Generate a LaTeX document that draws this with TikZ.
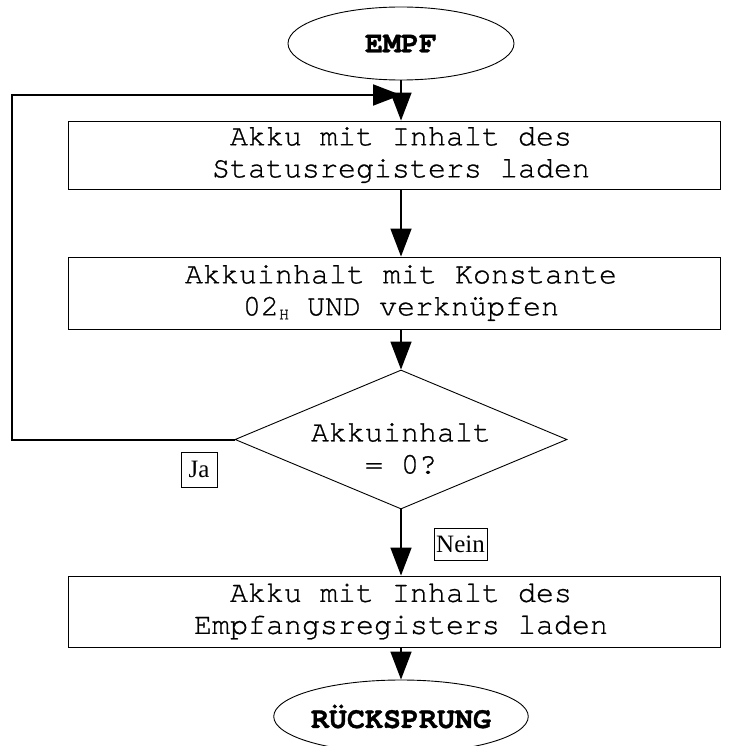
\documentclass[tikz,border=0pt]{standalone}
\usepackage{fontspec}
\setmainfont{Liberation Serif}
\newfontfamily\mono{TeX Gyre Cursor}[FakeBold=0.7, BoldFeatures={FakeBold=1.2}]
\usetikzlibrary{shapes.geometric,arrows.meta}
\newcommand{\shiftln}{\hspace*{14pt}}
\begin{document}
\begin{tikzpicture}[x=1pt,y=-1pt,
  procbox/.style={draw, line width=0.9pt, minimum width=652pt, inner sep=0pt, align=center, font=\mono\fontsize{30}{32}\selectfont},
  term/.style={draw, ellipse, line width=0.9pt, minimum width=226pt, minimum height=73pt, inner sep=0pt, font=\mono\bfseries\fontsize{30}{32}\selectfont},
  decision/.style={draw, diamond, line width=0.9pt, minimum width=332pt, minimum height=139pt, inner sep=0pt},
  dectxt/.style={align=center, inner sep=0pt, font=\mono\fontsize{30}{32}\selectfont},
  flow/.style={line width=1.6pt, -{Triangle[length=28pt,width=21pt]}},
  loopflow/.style={line width=2pt, -{Triangle[length=28pt,width=21pt]}},
  lab/.style={draw, line width=0.7pt, inner sep=0pt, font=\fontsize{25}{25}\selectfont}]
\useasboundingbox (0,0) rectangle (730,746);
\fill[white] (0,0) rectangle (730,746);
\node[term] (start) at (401,43.5) {EMPF};
\node[procbox, minimum height=68pt] (b1) at (394,155) {\shiftln Akku mit Inhalt des\\\shiftln Statusregisters laden};
\node[procbox, minimum height=72pt] (b2) at (394,293) {\shiftln Akkuinhalt mit Konstante\\\shiftln 02\raisebox{-4pt}{\fontsize{17}{17}\selectfont H} UND verknüpfen};
\node[decision] (dec) at (401,439.5) {};
\node[dectxt] (dectext) at (401,448.5) {Akkuinhalt\\= 0?};
\node[procbox, minimum height=71pt] (b3) at (394,611.5) {\shiftln Akku mit Inhalt des\\\shiftln Empfangsregisters laden};
\node[term] (stop) at (401,716.5) {RÜCKSPRUNG};
\node[lab, minimum width=36pt, minimum height=35pt] (ja) at (199,469.5) {Ja};
\node[lab, minimum width=53pt, minimum height=32pt] (nein) at (460.5,544) {Nein};
\coordinate (lc) at (12,439.5);
\coordinate (tc) at (401,95);
\draw[flow] (start.south) -- (b1.north -| start.center);
\draw[flow] (b1.south -| start.center) -- (b2.north -| start.center);
\draw[flow] (b2.south -| start.center) -- (dec.north);
\draw[flow] (dec.south) -- (b3.north -| start.center);
\draw[flow] (b3.south -| start.center) -- (stop.north);
\draw[loopflow] (dec.west) -- (lc) |- (tc);
\end{tikzpicture}
\end{document}
